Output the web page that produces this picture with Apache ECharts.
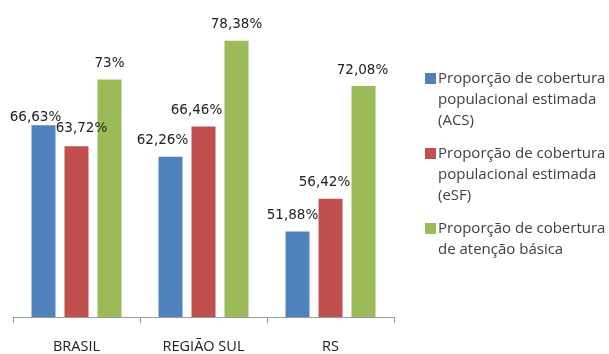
<!DOCTYPE html>
<html>
<head>
<meta charset="utf-8">
<script src="https://cdn.jsdelivr.net/npm/echarts@6/dist/echarts.min.js"></script>
<style>
  html, body { margin: 0; padding: 0; background: #ffffff; }
  #chart { width: 609px; height: 354px; }
</style>
</head>
<body>
<div id="chart"></div>
<script>
// Categories and coverage values (%)
const categories = ['BRASIL', 'REGIÃO SUL', 'RS'];
const seriesNames = [
  'Proporção de cobertura\npopulacional estimada\n(ACS)',
  'Proporção de cobertura\npopulacional estimada\n(eSF)',
  'Proporção de cobertura\nde atenção básica'
];
const acsValues = [66.63, 62.26, 51.88];
const esfValues = [63.72, 66.46, 56.42];
const abValues = [73, 78.38, 72.08];

const colors = ['#4F81BD', '#C0504D', '#9BBB59'];

// Label nudges so neighbouring value labels do not collide
const labelNudges = [
  [[-8, 8], [-8, 0], [-5, 0]],
  [[5, -2], [-7, 0], [-6, 0]],
  [[0, 0], [0, 0], [-1, 0]]
];

function fmt(v) {
  return String(v).replace('.', ',') + '%';
}

const allValues = [acsValues, esfValues, abValues];

const series = allValues.map(function (vals, si) {
  return {
    name: seriesNames[si],
    type: 'bar',
    barWidth: 24,
    barGap: '37.5%',
    itemStyle: { color: colors[si] },
    label: {
      show: true,
      position: 'top',
      distance: 9,
      fontFamily: 'DejaVu Sans',
      fontSize: 13.5,
      color: '#222222',
      formatter: function (p) { return fmt(p.value); }
    },
    data: vals.map(function (v, ci) {
      return { value: v, label: { offset: labelNudges[si][ci] } };
    })
  };
});

// Legend drawn as graphic items: swatch aligned with the first text line
const legendX = 425;
const legendTops = [73, 148, 223];
const legendGraphics = [];
seriesNames.forEach(function (name, i) {
  legendGraphics.push({
    type: 'rect',
    left: legendX,
    top: legendTops[i],
    shape: { width: 11, height: 11 },
    style: { fill: colors[i] }
  });
  legendGraphics.push({
    type: 'text',
    left: legendX + 13,
    top: legendTops[i] - 5,
    style: {
      text: name,
      fontFamily: 'Open Sans',
      fontSize: 15,
      lineHeight: 21,
      fill: '#404040'
    }
  });
});

const chart = echarts.init(document.getElementById('chart'), null, { renderer: 'canvas' });
chart.setOption({
  animation: false,
  backgroundColor: '#ffffff',
  grid: { left: 13, right: 215, top: 29, bottom: 34, containLabel: false },
  xAxis: {
    type: 'category',
    data: categories,
    axisLine: { show: true, lineStyle: { color: '#9a9a9a', width: 1 } },
    axisTick: { show: true, length: 6, lineStyle: { color: '#9a9a9a' } },
    axisLabel: {
      margin: 22,
      fontFamily: 'Open Sans',
      fontSize: 14.5,
      color: '#202020'
    }
  },
  yAxis: {
    type: 'value',
    min: 40,
    max: 80,
    interval: 10,
    show: false,
    splitLine: { show: false }
  },
  series: series,
  graphic: legendGraphics
});
</script>
</body>
</html>
